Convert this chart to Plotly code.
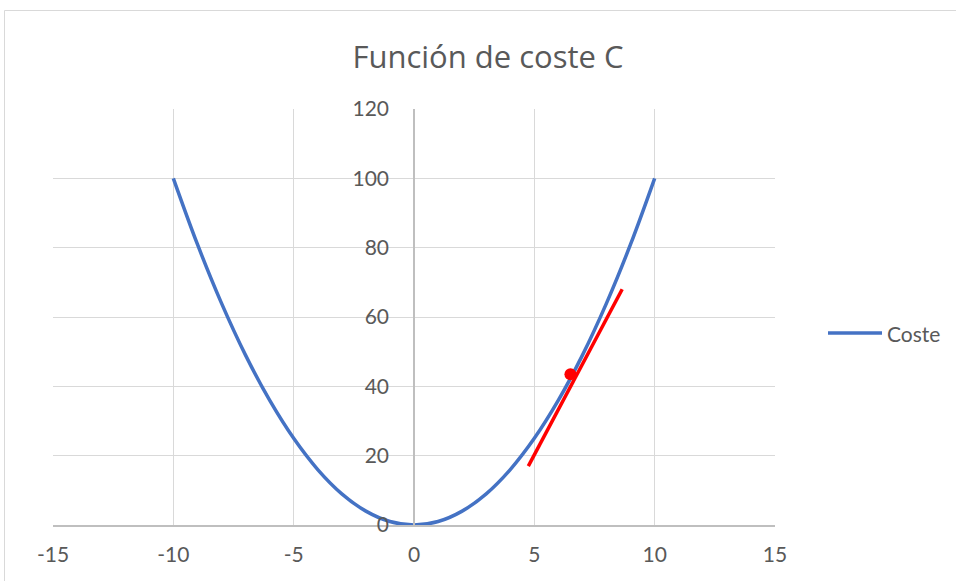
import plotly.graph_objects as go

# Data
x_vals = [-10, -9, -8, -7, -6, -5, -4, -3, -2, -1, 0, 1, 2, 3, 4, 5, 6, 7, 8, 9, 10]
coste = [100, 81, 64, 49, 36, 25, 16, 9, 4, 1, 0, 1, 4, 9, 16, 25, 36, 49, 64, 81, 100]
tangent_x = [4.75, 8.65]
tangent_y = [17, 68]
point_x = [6.5]
point_y = [43.5]
x_ticks = [-15, -10, -5, 0, 5, 10, 15]
x_tick_labels = ["-15", "-10", "-5", "0", "5", "10", "15"]
y_ticks = [0, 20, 40, 60, 80, 100, 120]
y_tick_labels = ["0", "20", "40", "60", "80", "100", "120"]

FONT = "Lato"
GREY = "#595959"
BLUE = "#4472C4"

# plot area in pixels
L, R, T, B = 53, 775, 109, 525
PW, PH = R - L, B - T

fig = go.Figure()
fig.add_trace(go.Scatter(x=x_vals, y=coste, mode="lines", name="Coste", showlegend=False,
                         line=dict(color=BLUE, width=3.5, shape="spline", smoothing=1.0)))
fig.add_trace(go.Scatter(x=tangent_x, y=tangent_y, mode="lines", showlegend=False,
                         line=dict(color="#FF0000", width=3.5)))
fig.add_trace(go.Scatter(x=point_x, y=point_y, mode="markers", showlegend=False,
                         marker=dict(color="#FF0000", size=12)))

def px_x(p):
    return (p - L) / PW

def px_y(p):
    return (B - p) / PH

fig.update_layout(
    width=956, height=581,
    margin=dict(l=L, r=956 - R, t=T, b=581 - B),
    paper_bgcolor="white", plot_bgcolor="white",
    title=dict(text="Función de coste C", x=488 / 956, xanchor="center",
               y=1 - 57 / 581, yanchor="middle",
               font=dict(family="Open Sans", size=31, color=GREY)),
    font=dict(family=FONT, size=21, color=GREY),
    xaxis=dict(range=[-15, 15], tickvals=x_ticks, ticktext=x_tick_labels,
               showgrid=True, gridcolor="#d9d9d9",
               gridwidth=1, zeroline=False, showline=True, linecolor="#bfbfbf",
               linewidth=1.5, ticks="", ticklabelstandoff=10,
               tickfont=dict(family=FONT, size=21, color=GREY)),
    yaxis=dict(range=[0, 120], tickvals=y_ticks, ticktext=y_tick_labels,
               showgrid=True, gridcolor="#d9d9d9",
               gridwidth=1, zeroline=False, showline=True, linecolor="#bfbfbf",
               linewidth=1.5, anchor="free", position=0.5, ticks="",
               ticklabelstandoff=20,
               tickfont=dict(family=FONT, size=21, color=GREY)),
    shapes=[
        dict(type="rect", xref="paper", yref="paper",
             x0=px_x(4.5), x1=1.5, y0=-0.3, y1=px_y(10.5),
             line=dict(color="#d9d9d9", width=1), layer="below"),
        dict(type="line", xref="paper", yref="paper",
             x0=px_x(828), x1=px_x(882), y0=px_y(333), y1=px_y(333),
             line=dict(color=BLUE, width=3.5)),
    ],
    annotations=[
        dict(text="Coste", xref="paper", yref="paper", x=px_x(885), y=px_y(333),
             xanchor="left", yanchor="middle", showarrow=False,
             font=dict(family=FONT, size=21, color=GREY)),
    ],
)

fig.write_html("out.html")
